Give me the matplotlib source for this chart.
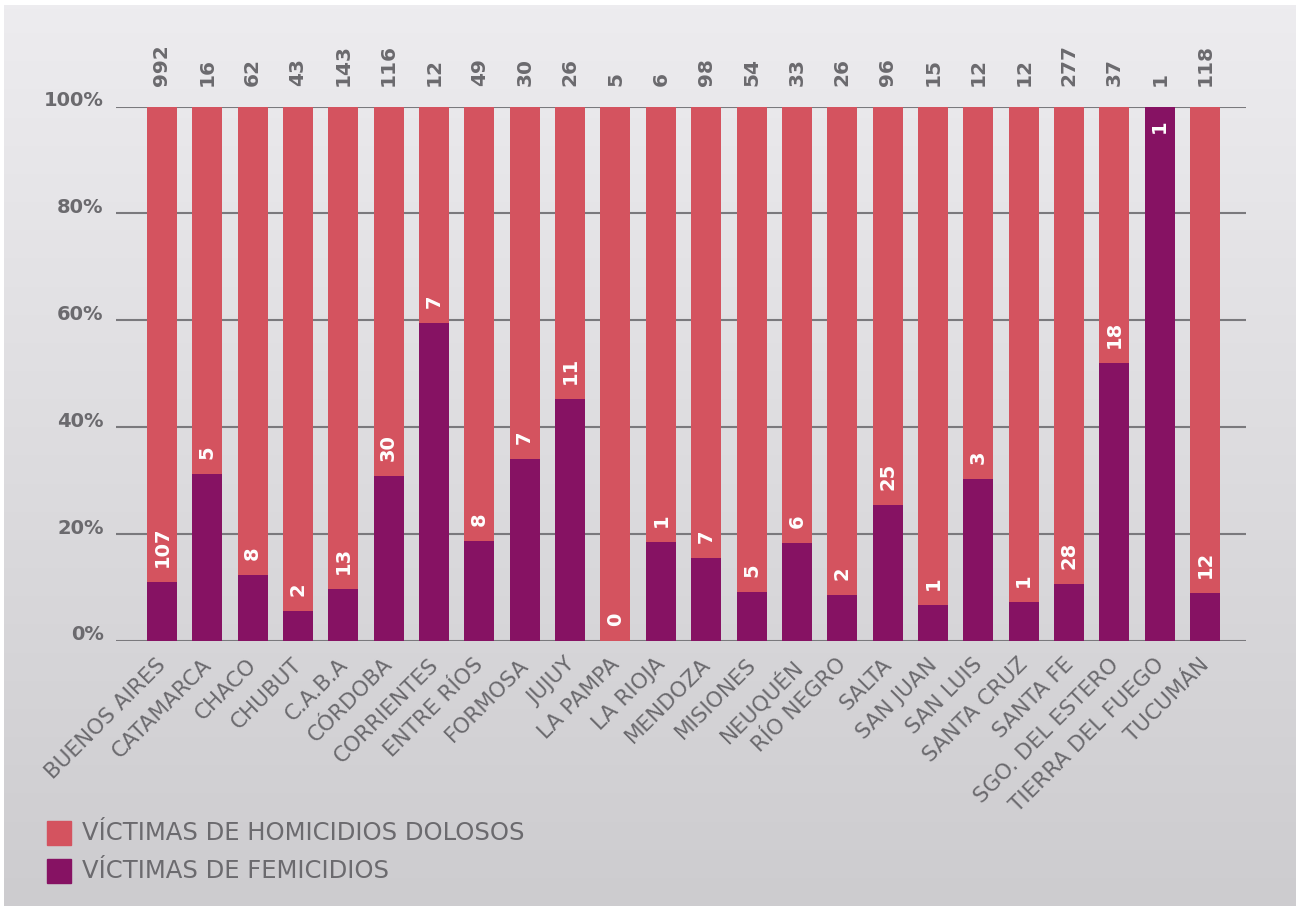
import numpy as np
import matplotlib as mpl
mpl.use("Agg")
import matplotlib.pyplot as plt
import matplotlib.transforms as mtransforms

# ---- data
provincias = ['BUENOS AIRES', 'CATAMARCA', 'CHACO', 'CHUBUT', 'C.A.B.A', 'CÓRDOBA',
              'CORRIENTES', 'ENTRE RÍOS', 'FORMOSA', 'JUJUY', 'LA PAMPA', 'LA RIOJA',
              'MENDOZA', 'MISIONES', 'NEUQUÉN', 'RÍO NEGRO', 'SALTA', 'SAN JUAN',
              'SAN LUIS', 'SANTA CRUZ', 'SANTA FE', 'SGO. DEL ESTERO',
              'TIERRA DEL FUEGO', 'TUCUMÁN']
homicidios = [992, 16, 62, 43, 143, 116, 12, 49, 30, 26, 5, 6,
              98, 54, 33, 26, 96, 15, 12, 12, 277, 37, 1, 118]
femicidios = [107, 5, 8, 2, 13, 30, 7, 8, 7, 11, 0, 1,
              7, 5, 6, 2, 25, 1, 3, 1, 28, 18, 1, 12]
pct_femicidios = [11.0, 31.2, 12.3, 5.6, 9.7, 30.8, 59.5, 18.7, 34.0, 45.3, 0.0, 18.5,
                  15.5, 9.1, 18.3, 8.5, 25.4, 6.7, 30.3, 7.2, 10.6, 52.0, 100.0, 8.9]
yticks = [0, 20, 40, 60, 80, 100]
leyenda = ['VÍCTIMAS DE HOMICIDIOS DOLOSOS', 'VÍCTIMAS DE FEMICIDIOS']

c_rojo = '#d4535f'
c_violeta = '#861263'
c_texto = '#6b6a6e'
c_grid = '#7a797d'

plt.rcParams['font.family'] = ['DejaVu Sans']

W, H = 1296, 906
fig = plt.figure(figsize=(W / 100, H / 100), dpi=100)
fig.patch.set_facecolor('white')

# background gradient panel
bg = fig.add_axes([4 / W, 0, 1 - 4 / W, 1 - 5 / H])
top = np.array([237, 236, 239]) / 255
bot = np.array([205, 204, 207]) / 255
t = np.linspace(0, 1, 256)[:, None]
grad = top[None, :] * (1 - t) + bot[None, :] * t
bg.imshow(grad[:, None, :], aspect='auto', extent=[0, 1, 0, 1])
bg.axis('off')

# main axes
x0, x1 = 116, 1246
y0, y1 = 640.5, 106.5
ax = fig.add_axes([x0 / W, 1 - y0 / H, (x1 - x0) / W, (y0 - y1) / H])
ax.set_facecolor('none')

x = np.arange(len(provincias))
pct = np.array(pct_femicidios)
ax.bar(x, 100 - pct, bottom=pct, width=0.66, color=c_rojo, zorder=3)
ax.bar(x, pct, width=0.66, color=c_violeta, zorder=3)

ax.set_xlim(-1.01, len(x) - 1 + 0.9)
ax.set_ylim(0, 100)
ax.set_yticks(yticks)
ax.set_yticklabels([])
ax.yaxis.grid(True, color=c_grid, lw=1.5)
ax.tick_params(axis='y', length=0)
for s in ax.spines.values():
    s.set_visible(False)

# y labels sitting on gridlines
tr = mtransforms.blended_transform_factory(ax.transAxes, ax.transData)
for v in yticks:
    ax.text(-0.011, v, f'{v}%', transform=tr, ha='right', va='baseline',
            fontsize=14, fontweight='bold', color=c_texto)

# category labels
ax.set_xticks(x)
ax.set_xticklabels(provincias, rotation=45, ha='right', rotation_mode='anchor',
                   fontsize=15.5, color=c_texto)
ax.tick_params(axis='x', length=0, pad=10)
shift = mtransforms.ScaledTranslation(-6 / 100, 0, fig.dpi_scale_trans)
for lab in ax.get_xticklabels():
    lab.set_transform(lab.get_transform() + shift)

# totals on top, femicide counts above the purple part
for i in range(len(x)):
    ax.text(x[i], 103.9, str(homicidios[i]), rotation=90, ha='center', va='bottom',
            fontsize=14.5, fontweight='bold', color=c_texto, clip_on=False)
    if pct[i] >= 95:
        ax.text(x[i], 97.5, str(femicidios[i]), rotation=90, ha='center', va='top',
                fontsize=14, fontweight='bold', color='white', zorder=5)
    else:
        ax.text(x[i], pct[i] + 2.8, str(femicidios[i]), rotation=90, ha='center',
                va='bottom', fontsize=14, fontweight='bold', color='white', zorder=5)

# legend
for k, (lab, col) in enumerate(zip(leyenda, [c_rojo, c_violeta])):
    ytop = 821 + k * 38
    fig.patches.append(plt.Rectangle((47 / W, 1 - (ytop + 24) / H), 24 / W, 24 / H,
                                     transform=fig.transFigure, color=col))
    fig.text(82 / W, 1 - (ytop + 12) / H, lab, ha='left', va='center',
             fontsize=17.5, color=c_texto)

plt.savefig('out.png', dpi=100)
